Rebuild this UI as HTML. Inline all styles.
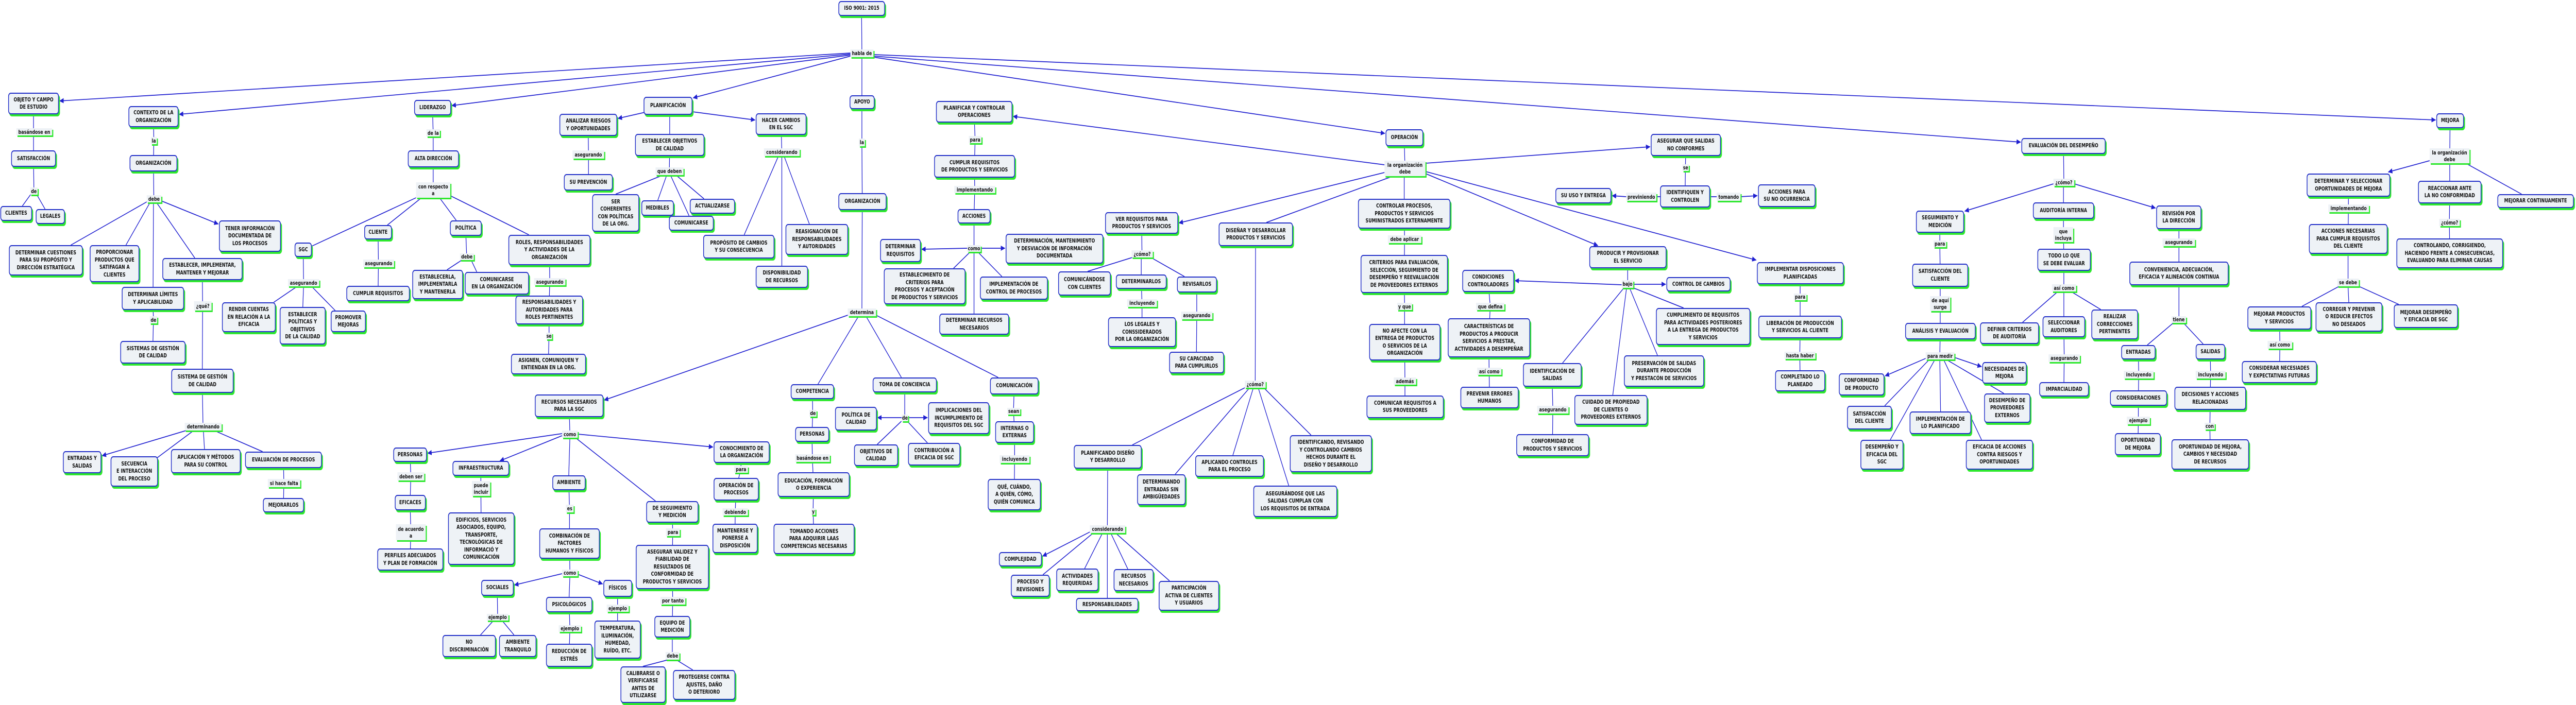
<!DOCTYPE html>
<html><head><meta charset="utf-8"><style>
html,body{margin:0;padding:0;overflow:hidden;background:#fff}
#w{position:absolute;left:0;top:0;width:6916px;height:1369px;transform-origin:0 0;background:#fff}
svg{position:absolute;left:0;top:0}
.n{position:absolute;box-sizing:border-box;border:2px solid #2330c8;border-radius:7px;background:#eef2f6;box-shadow:3px 4px 0 #2ee82e;display:flex;align-items:center;justify-content:center;text-align:center;font:bold 11px/14.5px "DejaVu Sans","Liberation Sans",sans-serif;color:#111;white-space:nowrap}
.l{position:absolute;background:#eef2f6;box-shadow:3px 3px 0 #2ee82e;display:flex;align-items:center;justify-content:center;text-align:center;font:bold 11px/13px "DejaVu Sans","Liberation Sans",sans-serif;color:#111;white-space:nowrap}
</style></head><body>
<div id="w">
<svg width="6916" height="1369" viewBox="0 0 6916 1369">
<defs><marker id="a" markerWidth="12" markerHeight="10" refX="11" refY="5" orient="auto" markerUnits="userSpaceOnUse"><path d="M0,0 L12,5 L0,10 z" fill="#1f1fd0"/></marker></defs>
<g stroke="#1f1fd0" stroke-width="1.7" fill="none">
<path d="M2313,16 L2314,103 M2314,111 L2314,185
M90,201 L90,255 L90,308 L91,370 M83,377 L60,400 M98,377 L121,406
M412,226 L413,273 L412,317 L413,385 M394,392 L190,476 M403,393 L338,476 M412,393 L411,557 M420,393 L523,501
M410,580 L412,620 L410,684 M543,522 L544,594 L543,740 L545,828
M520,836 L420,890 M546,836 L549,872 M575,836 L705,877 M761,893 L762,938 L761,981
M1161,209 L1163,258 L1163,308 L1163,369 M1117,384 L837,478 M1130,385 L1040,437 M1180,384 L1225,428 M1209,380 L1420,456
M814,485 L815,548 M800,555 L735,587 M815,555 L813,596 M835,555 L900,603
M1015,451 L1016,511 L1015,570 M1250,443 L1253,498 M1240,505 L1200,524 M1265,505 L1280,528
M1475,485 L1476,547 L1474,602 L1474,652 L1472,707
M1798,223 L1798,282 L1797,332 M1780,340 L1653,377 M1790,340 L1766,389 M1815,340 L1890,386 M1800,340 L1850,419
M1579,243 L1580,300 L1580,354
M2097,241 L2099,295 M2090,303 L1998,456 M2105,303 L2173,435 M2099,303 L2099,516
M2314,198 L2314,276 L2315,391 L2314,606 M2305,614 L2196,746 M2325,614 L2420,733 M2352,612 L2680,733
M1528,788 L1530,843 M1530,850 L1527,923 M1545,850 L1760,973
M1101,883 L1103,925 L1101,976 L1103,1033 L1101,1086
M1291,910 L1291,948 L1292,1046
M1527,937 L1529,987 L1529,1055 L1530,1112 M1530,1119 L1528,1159
M1335,1141 L1336,1198 M1325,1205 L1290,1233 M1348,1205 L1380,1233
M1528,1174 L1530,1220 L1528,1272 M1658,1142 L1658,1181 L1658,1242
M1805,994 L1806,1033 L1805,1101 L1806,1166 L1805,1217 L1805,1273 M1795,1281 L1726,1294 M1815,1281 L1860,1301
M1991,878 L1989,911 L1976,950 L1974,994 L1973,1045
M2181,760 L2182,802 L2180,843 L2181,889 L2184,941 L2183,993 L2185,1046
M2429,747 L2429,811 M2420,818 L2355,863 M2436,818 L2490,860
M2723,749 L2721,798 L2724,839 L2724,891 L2723,960
M2615,217 L2618,271 L2616,323 L2617,368 L2615,420 L2615,482 M2605,489 L2560,521 M2615,489 L2615,609 M2625,489 L2690,537
M3770,267 L3772,327 M3740,342 L3400,432 M3770,342 L3770,386
M3065,433 L3066,493 M3040,500 L2920,527 M3064,500 L3064,533 M3090,500 L3180,537
M3064,547 L3066,588 L3066,645 M3213,552 L3213,612 L3212,704
M3371,455 L3370,746 M3342,753 L3040,864 M3355,753 L3155,921 M3365,753 L3310,884 M3378,753 L3460,943 M3393,753 L3520,845
M2974,887 L2973,1027 M2935,1035 L2800,1116 M2960,1035 L2912,1104 M2973,1035 L2973,1161 M2982,1035 L3028,1105 M2995,1035 L3140,1128
M3770,415 L3771,464 L3770,532 L3771,595 L3771,664 L3772,740 L3772,790
M4526,281 L4525,325 L4524,381 L4447,382 M4591,382 L4609,382
M4370,500 L4370,551 M4385,559 L4520,598 M4375,559 L4450,690 M4367,559 L4330,767 M4360,559 L4195,705
M3995,545 L4001,595 L3997,656 L3998,721 L3999,772 M4167,728 L4169,795 L4168,864
M4833,530 L4833,576 L4833,635 L4832,690 L4833,740
M5540,283 L5541,354 M5540,361 L5540,393
M5208,430 L5208,473 L5209,534 L5209,589 L5209,643 L5208,691 M5180,698 L5060,788 M5195,698 L5075,854 M5208,698 L5210,799 M5218,698 L5320,854 M5225,698 L5380,764
M5540,409 L5540,455 L5541,504 L5541,559 M5525,566 L5430,626 M5541,566 L5541,614 M5560,566 L5640,601 M5541,634 L5542,695 L5541,756
M5850,422 L5850,470 L5850,531 L5850,620 M5835,627 L5765,670 M5862,627 L5915,668
M5741,684 L5742,727 L5741,773 L5741,816 L5740,862 M5934,683 L5935,727 L5934,773 L5933,827 L5934,882
M6578,234 L6577,302 M6577,317 L6577,351 M6620,317 L6770,377
M6305,359 L6305,404 L6304,464 L6304,548 M6280,556 L6180,595 M6304,556 L6306,587 M6333,556 L6440,591
M6120,617 L6121,669 L6120,722 M6577,373 L6576,432 L6577,492"/>
</g>
<g stroke="#1f1fd0" stroke-width="1.7" fill="none" marker-end="url(#a)">
<line x1="2283" y1="103" x2="160" y2="196"/>
<line x1="2283" y1="105" x2="481" y2="222"/>
<line x1="2283" y1="107" x2="1213" y2="205"/>
<line x1="2283" y1="109" x2="1861" y2="190"/>
<line x1="2345" y1="106" x2="6539" y2="233"/>
<line x1="2345" y1="109" x2="5425" y2="276"/>
<line x1="2345" y1="111" x2="3718" y2="259"/>
<line x1="433" y1="390" x2="586" y2="435"/>
<line x1="500" y1="836" x2="274" y2="885"/>
<line x1="1732" y1="218" x2="1659" y2="230"/>
<line x1="1859" y1="217" x2="2027" y2="233"/>
<line x1="2276" y1="612" x2="1622" y2="777"/>
<line x1="1509" y1="842" x2="1148" y2="880"/>
<line x1="1509" y1="846" x2="1342" y2="895"/>
<line x1="1551" y1="843" x2="1914" y2="868"/>
<line x1="1509" y1="1114" x2="1381" y2="1136"/>
<line x1="1551" y1="1115" x2="1618" y2="1134"/>
<line x1="2421" y1="811" x2="2356" y2="811"/>
<line x1="2438" y1="811" x2="2490" y2="811"/>
<line x1="2597" y1="482" x2="2474" y2="484"/>
<line x1="2633" y1="482" x2="2698" y2="482"/>
<line x1="3717" y1="320" x2="2720" y2="226"/>
<line x1="3717" y1="335" x2="3165" y2="433"/>
<line x1="3827" y1="317" x2="4430" y2="285"/>
<line x1="3827" y1="337" x2="4290" y2="477"/>
<line x1="3827" y1="333" x2="4715" y2="505"/>
<line x1="2926" y1="1033" x2="2799" y2="1080"/>
<line x1="4366" y1="382" x2="4328" y2="380"/>
<line x1="4673" y1="382" x2="4718" y2="380"/>
<line x1="4354" y1="553" x2="4067" y2="545"/>
<line x1="4385" y1="552" x2="4472" y2="552"/>
<line x1="5513" y1="357" x2="5275" y2="410"/>
<line x1="5569" y1="357" x2="5787" y2="404"/>
<line x1="5170" y1="696" x2="5061" y2="730"/>
<line x1="5247" y1="694" x2="5320" y2="712"/>
<line x1="6523" y1="312" x2="6412" y2="334"/>
</g>
</svg>

<div class="n" style="left:2251px;top:2px;width:125px;height:29px">ISO 9001: 2015</div>
<div class="l" style="left:2283px;top:96px;width:62px;height:15px">habla de</div>

<div class="n" style="left:22px;top:180px;width:136px;height:42px">OBJETO Y CAMPO<br>DE ESTUDIO</div>
<div class="l" style="left:44px;top:249px;width:96px;height:14px">basándose en</div>
<div class="n" style="left:30px;top:292px;width:120px;height:32px">SATISFACCIÓN</div>
<div class="l" style="left:81px;top:364px;width:20px;height:14px">de</div>
<div class="n" style="left:1px;top:400px;width:85px;height:29px">CLIENTES</div>
<div class="n" style="left:96px;top:406px;width:78px;height:29px">LEGALES</div>
<div class="n" style="left:345px;top:206px;width:134px;height:41px">CONTEXTO DE LA<br>ORGANIZACIÓN</div>
<div class="l" style="left:405px;top:266px;width:16px;height:14px">la</div>
<div class="n" style="left:348px;top:301px;width:128px;height:32px">ORGANIZACIÓN</div>
<div class="l" style="left:394px;top:379px;width:39px;height:14px">debe</div>
<div class="n" style="left:588px;top:428px;width:166px;height:61px">TENER INFORMACIÓN<br>DOCUMENTADA DE<br>LOS PROCESOS</div>
<div class="n" style="left:24px;top:476px;width:198px;height:59px">DETERMINAR CUESTIONES<br>PARA SU PROPÓSITO Y<br>DIRECCIÓN ESTRATÉGICA</div>
<div class="n" style="left:241px;top:476px;width:133px;height:72px">PROPORCIONAR<br>PRODUCTOS QUE<br>SATIFAGAN A<br>CLIENTES</div>
<div class="n" style="left:436px;top:501px;width:215px;height:43px">ESTABLECER, IMPLEMENTAR,<br>MANTENER Y MEJORAR</div>
<div class="n" style="left:327px;top:557px;width:167px;height:45px">DETERMINAR LÍMITES<br>Y APLICABILIDAD</div>
<div class="l" style="left:402px;top:614px;width:20px;height:14px">de</div>
<div class="n" style="left:323px;top:662px;width:175px;height:44px">SISTEMAS DE GESTIÓN<br>DE CALIDAD</div>
<div class="l" style="left:521px;top:585px;width:47px;height:18px">¿qué?</div>
<div class="n" style="left:460px;top:716px;width:167px;height:47px">SISTEMA DE GESTIÓN<br>DE CALIDAD</div>
<div class="l" style="left:496px;top:821px;width:99px;height:15px">determinando</div>
<div class="n" style="left:169px;top:876px;width:103px;height:43px">ENTRADAS Y<br>SALIDAS</div>
<div class="n" style="left:297px;top:886px;width:127px;height:59px">SECUENCIA<br>E INTERACCIÓN<br>DEL PROCESO</div>
<div class="n" style="left:459px;top:872px;width:187px;height:47px">APLICACIÓN Y MÉTODOS<br>PARA SU CONTROL</div>
<div class="n" style="left:658px;top:877px;width:206px;height:32px">EVALUACIÓN DE PROCESOS</div>
<div class="l" style="left:719px;top:930px;width:87px;height:16px">si hace falta</div>
<div class="n" style="left:706px;top:967px;width:110px;height:28px">MEJORARLOS</div>

<div class="n" style="left:1112px;top:194px;width:99px;height:30px">LIDERAZGO</div>
<div class="l" style="left:1145px;top:251px;width:36px;height:14px">de la</div>
<div class="n" style="left:1095px;top:292px;width:137px;height:33px">ALTA DIRECCIÓN</div>
<div class="l" style="left:1117px;top:354px;width:92px;height:30px">con respecto<br>a</div>
<div class="n" style="left:791px;top:471px;width:46px;height:28px">SGC</div>
<div class="l" style="left:773px;top:542px;width:84px;height:14px">asegurando</div>
<div class="n" style="left:596px;top:587px;width:144px;height:58px">RENDIR CUENTAS<br>EN RELACIÓN A LA<br>EFICACIA</div>
<div class="n" style="left:751px;top:596px;width:123px;height:73px">ESTABLECER<br>POLÍTICAS Y<br>OBJETIVOS<br>DE LA CALIDAD</div>
<div class="n" style="left:888px;top:603px;width:94px;height:42px">PROMOVER<br>MEJORAS</div>
<div class="n" style="left:978px;top:437px;width:74px;height:28px">CLIENTE</div>
<div class="l" style="left:975px;top:504px;width:83px;height:15px">asegurando</div>
<div class="n" style="left:930px;top:555px;width:170px;height:30px">CUMPLIR REQUISITOS</div>
<div class="n" style="left:1208px;top:428px;width:85px;height:30px">POLÍTICA</div>
<div class="l" style="left:1235px;top:492px;width:37px;height:13px">debe</div>
<div class="n" style="left:1107px;top:524px;width:136px;height:57px">ESTABLECERLA,<br>IMPLEMENTARLA<br>Y MANTENERLA</div>
<div class="n" style="left:1248px;top:528px;width:172px;height:44px">COMUNICARSE<br>EN LA ORGANIZACIÓN</div>
<div class="n" style="left:1365px;top:456px;width:220px;height:59px">ROLES, RESPONSABILIDADES<br>Y ACTIVIDADES DE LA<br>ORGANIZACIÓN</div>
<div class="l" style="left:1434px;top:540px;width:84px;height:14px">asegurando</div>
<div class="n" style="left:1384px;top:574px;width:181px;height:56px">RESPONSABILIDADES Y<br>AUTORIDADES PARA<br>ROLES PERTINENTES</div>
<div class="l" style="left:1466px;top:646px;width:16px;height:13px">se</div>
<div class="n" style="left:1372px;top:687px;width:201px;height:40px">ASIGNEN, COMUNIQUEN Y<br>ENTIENDAN EN LA ORG.</div>

<div class="n" style="left:1728px;top:188px;width:131px;height:35px">PLANIFICACIÓN</div>
<div class="n" style="left:1502px;top:221px;width:155px;height:43px">ANALIZAR RIESGOS<br>Y OPORTUNIDADES</div>
<div class="l" style="left:1537px;top:292px;width:85px;height:16px">asegurando</div>
<div class="n" style="left:1514px;top:338px;width:131px;height:32px">SU PREVENCIÓN</div>
<div class="n" style="left:1705px;top:260px;width:186px;height:43px">ESTABLECER OBJETIVOS<br>DE CALIDAD</div>
<div class="l" style="left:1760px;top:325px;width:75px;height:15px">que deben</div>
<div class="n" style="left:1590px;top:377px;width:126px;height:73px">SER<br>COHERENTES<br>CON POLÍTICAS<br>DE LA ORG.</div>
<div class="n" style="left:1722px;top:389px;width:87px;height:30px">MEDIBLES</div>
<div class="n" style="left:1852px;top:386px;width:121px;height:29px">ACTUALIZARSE</div>
<div class="n" style="left:1796px;top:419px;width:120px;height:29px">COMUNICARSE</div>
<div class="n" style="left:2029px;top:220px;width:136px;height:42px">HACER CAMBIOS<br>EN EL SGC</div>
<div class="l" style="left:2051px;top:288px;width:96px;height:15px">considerando</div>
<div class="n" style="left:1888px;top:456px;width:191px;height:46px">PROPÓSITO DE CAMBIOS<br>Y SU CONSECUENCIA</div>
<div class="n" style="left:2109px;top:435px;width:168px;height:60px">REASIGNACIÓN DE<br>RESPONSABILIDADES<br>Y AUTORIDADES</div>
<div class="n" style="left:2029px;top:516px;width:140px;height:43px">DISPONIBILIDAD<br>DE RECURSOS</div>

<div class="n" style="left:2281px;top:185px;width:67px;height:27px">APOYO</div>
<div class="l" style="left:2306px;top:269px;width:16px;height:15px">la</div>
<div class="n" style="left:2251px;top:375px;width:129px;height:33px">ORGANIZACIÓN</div>
<div class="l" style="left:2276px;top:599px;width:76px;height:15px">determina</div>
<div class="n" style="left:1436px;top:766px;width:184px;height:44px">RECURSOS NECESARIOS<br>PARA LA SGC</div>
<div class="l" style="left:1509px;top:836px;width:42px;height:14px">como</div>
<div class="n" style="left:1056px;top:869px;width:90px;height:28px">PERSONAS</div>
<div class="l" style="left:1067px;top:917px;width:72px;height:16px">deben ser</div>
<div class="n" style="left:1060px;top:961px;width:83px;height:30px">EFICACES</div>
<div class="l" style="left:1063px;top:1018px;width:80px;height:31px">de acuerdo<br>a</div>
<div class="n" style="left:1013px;top:1065px;width:177px;height:43px">PERFILES ADECUADOS<br>Y PLAN DE FORMACIÓN</div>
<div class="n" style="left:1215px;top:895px;width:152px;height:29px">INFRAESTRUCTURA</div>
<div class="l" style="left:1267px;top:934px;width:49px;height:29px">puede<br>incluir</div>
<div class="n" style="left:1203px;top:995px;width:178px;height:102px">EDIFICIOS, SERVICIOS<br>ASOCIADOS, EQUIPO,<br>TRANSPORTE,<br>TECNOLÓGICAS DE<br>INFORMACIÓ Y<br>COMUNICACIÓN</div>
<div class="n" style="left:1483px;top:923px;width:89px;height:29px">AMBIENTE</div>
<div class="l" style="left:1519px;top:980px;width:21px;height:15px">es</div>
<div class="n" style="left:1448px;top:1026px;width:162px;height:59px">COMBINACIÓN DE<br>FACTORES<br>HUMANOS Y FÍSICOS</div>
<div class="l" style="left:1509px;top:1106px;width:42px;height:13px">como</div>
<div class="n" style="left:1292px;top:1126px;width:87px;height:31px">SOCIALES</div>
<div class="l" style="left:1307px;top:1192px;width:58px;height:13px">ejemplo</div>
<div class="n" style="left:1188px;top:1233px;width:143px;height:43px">NO<br>DISCRIMINACIÓN</div>
<div class="n" style="left:1340px;top:1233px;width:100px;height:43px">AMBIENTE<br>TRANQUILO</div>
<div class="n" style="left:1466px;top:1159px;width:124px;height:30px">PSICOLÓGICOS</div>
<div class="l" style="left:1500px;top:1214px;width:60px;height:13px">ejemplo</div>
<div class="n" style="left:1466px;top:1250px;width:124px;height:45px">REDUCCIÓN DE<br>ESTRÉS</div>
<div class="n" style="left:1620px;top:1126px;width:77px;height:33px">FÍSICOS</div>
<div class="l" style="left:1629px;top:1174px;width:59px;height:14px">ejemplo</div>
<div class="n" style="left:1596px;top:1205px;width:124px;height:74px">TEMPERATURA,<br>ILUMINACIÓN,<br>HUMEDAD,<br>RUÍDO, ETC.</div>
<div class="n" style="left:1735px;top:973px;width:140px;height:42px">DE SEGUIMIENTO<br>Y MEDICIÓN</div>
<div class="l" style="left:1788px;top:1026px;width:37px;height:15px">para</div>
<div class="n" style="left:1707px;top:1058px;width:196px;height:86px">ASEGURAR VALIDEZ Y<br>FIABILIDAD DE<br>RESULTADOS DE<br>CONFORMIDAD DE<br>PRODUCTOS Y SERVICIOS</div>
<div class="l" style="left:1773px;top:1159px;width:67px;height:15px">por tanto</div>
<div class="n" style="left:1757px;top:1196px;width:96px;height:42px">EQUIPO DE<br>MEDICIÓN</div>
<div class="l" style="left:1787px;top:1266px;width:37px;height:15px">debe</div>
<div class="n" style="left:1666px;top:1294px;width:121px;height:71px">CALIBRARSE O<br>VERIFICARSE<br>ANTES DE<br>UTILIZARSE</div>
<div class="n" style="left:1807px;top:1301px;width:167px;height:58px">PROTEGERSE CONTRA<br>AJUSTES, DAÑO<br>O DETERIORO</div>
<div class="n" style="left:1916px;top:857px;width:150px;height:42px">CONOCIMIENTO DE<br>LA ORGANIZACIÓN</div>
<div class="l" style="left:1971px;top:905px;width:37px;height:13px">para</div>
<div class="n" style="left:1916px;top:928px;width:121px;height:44px">OPERACIÓN DE<br>PROCESOS</div>
<div class="l" style="left:1940px;top:987px;width:68px;height:14px">debiendo</div>
<div class="n" style="left:1913px;top:1017px;width:121px;height:57px">MANTENERSE Y<br>PONERSE A<br>DISPOSICIÓN</div>
<div class="n" style="left:2123px;top:746px;width:116px;height:29px">COMPETENCIA</div>
<div class="l" style="left:2173px;top:796px;width:19px;height:13px">de</div>
<div class="n" style="left:2135px;top:829px;width:91px;height:29px">PERSONAS</div>
<div class="l" style="left:2135px;top:882px;width:93px;height:15px">basándose en</div>
<div class="n" style="left:2088px;top:917px;width:193px;height:48px">EDUCACIÓN, FORMACIÓN<br>O EXPERIENCIA</div>
<div class="l" style="left:2178px;top:987px;width:11px;height:13px">y</div>
<div class="n" style="left:2077px;top:1017px;width:217px;height:59px">TOMANDO ACCIONES<br>PARA ADQUIRIR LAAS<br>COMPETENCIAS NECESARIAS</div>
<div class="n" style="left:2343px;top:733px;width:172px;height:29px">TOMA DE CONCIENCIA</div>
<div class="l" style="left:2421px;top:805px;width:17px;height:13px">de</div>
<div class="n" style="left:2242px;top:790px;width:112px;height:46px">POLÍTICA DE<br>CALIDAD</div>
<div class="n" style="left:2293px;top:863px;width:118px;height:42px">OBJETIVOS DE<br>CALIDAD</div>
<div class="n" style="left:2438px;top:860px;width:140px;height:44px">CONTRIBUCIÓN A<br>EFICACIA DE SGC</div>
<div class="n" style="left:2492px;top:781px;width:164px;height:62px">IMPLICACIONES DEL<br>INCUMPLIMIENTO DE<br>REQUISITOS DEL SGC</div>
<div class="n" style="left:2658px;top:733px;width:130px;height:33px">COMUNICACIÓN</div>
<div class="l" style="left:2704px;top:792px;width:35px;height:13px">sean</div>
<div class="n" style="left:2672px;top:818px;width:104px;height:42px">INTERNAS O<br>EXTERNAS</div>
<div class="l" style="left:2684px;top:884px;width:80px;height:15px">incluyendo</div>
<div class="n" style="left:2652px;top:930px;width:142px;height:61px">QUÉ, CUÁNDO,<br>A QUIÉN, CÓMO,<br>QUIÉN COMUNICA</div>

<div class="n" style="left:2513px;top:196px;width:205px;height:42px">PLANIFICAR Y CONTROLAR<br>OPERACIONES</div>
<div class="l" style="left:2601px;top:264px;width:34px;height:14px">para</div>
<div class="n" style="left:2508px;top:301px;width:217px;height:44px">CUMPLIR REQUISITOS<br>DE PRODUCTOS Y SERVICIOS</div>
<div class="l" style="left:2562px;top:361px;width:110px;height:14px">implementando</div>
<div class="n" style="left:2571px;top:406px;width:88px;height:28px">ACCIONES</div>
<div class="l" style="left:2597px;top:476px;width:36px;height:13px">como</div>
<div class="n" style="left:2363px;top:464px;width:109px;height:45px">DETERMINAR<br>REQUISITOS</div>
<div class="n" style="left:2373px;top:521px;width:219px;height:70px">ESTABLECIMIENTO DE<br>CRITERIOS PARA<br>PROCESOS Y ACEPTACIÓN<br>DE PRODUCTOS Y SERVICIOS</div>
<div class="n" style="left:2522px;top:609px;width:187px;height:41px">DETERMINAR RECURSOS<br>NECESARIOS</div>
<div class="n" style="left:2631px;top:537px;width:182px;height:45px">IMPLEMENTACIÓN DE<br>CONTROL DE PROCESOS</div>
<div class="n" style="left:2700px;top:454px;width:262px;height:58px">DETERMINACIÓN, MANTENIMIENTO<br>Y DESVIACIÓN DE INFORMACIÓN<br>DOCUMENTADA</div>

<div class="n" style="left:3720px;top:251px;width:101px;height:33px">OPERACIÓN</div>
<div class="l" style="left:3717px;top:312px;width:110px;height:30px">la organización<br>debe</div>
<div class="n" style="left:2967px;top:412px;width:196px;height:42px">VER REQUISITOS PARA<br>PRODUCTOS Y SERVICIOS</div>
<div class="l" style="left:3038px;top:486px;width:57px;height:14px">¿cómo?</div>
<div class="n" style="left:2841px;top:527px;width:141px;height:47px">COMUNICÁNDOSE<br>CON CLIENTES</div>
<div class="n" style="left:2996px;top:533px;width:136px;height:28px">DETERMINARLOS</div>
<div class="l" style="left:3026px;top:581px;width:80px;height:15px">incluyendo</div>
<div class="n" style="left:2975px;top:616px;width:182px;height:58px">LOS LEGALES Y<br>CONSSIDERADOS<br>POR LA ORGANIZACIÓN</div>
<div class="n" style="left:3160px;top:537px;width:107px;height:31px">REVISARLOS</div>
<div class="l" style="left:3171px;top:605px;width:84px;height:15px">asegurando</div>
<div class="n" style="left:3139px;top:683px;width:147px;height:42px">SU CAPACIDAD<br>PARA CUMPLIRLOS</div>
<div class="n" style="left:3272px;top:432px;width:199px;height:46px">DISEÑAR Y DESARROLLAR<br>PRODUCTOS Y SERVICIOS</div>
<div class="l" style="left:3342px;top:739px;width:56px;height:14px">¿cómo?</div>
<div class="n" style="left:2883px;top:864px;width:182px;height:46px">PLANIFICANDO DISEÑO<br>Y DESARROLLO</div>
<div class="n" style="left:3053px;top:921px;width:130px;height:60px">DETERMINANDO<br>ENTRADAS SIN<br>AMBIGÜEDADES</div>
<div class="n" style="left:3209px;top:884px;width:184px;height:42px">APLICANDO CONTROLES<br>PARA EL PROCESO</div>
<div class="n" style="left:3365px;top:943px;width:225px;height:61px">ASEGURÁNDOSE QUE LAS<br>SALIDAS CUMPLAN CON<br>LOS REQUISITOS DE ENTRADA</div>
<div class="n" style="left:3463px;top:845px;width:220px;height:72px">IDENTIFICANDO, REVISANDO<br>Y CONTROLANDO CAMBIOS<br>HECHOS DURANTE EL<br>DISEÑO Y DESARROLLO</div>
<div class="l" style="left:2926px;top:1020px;width:95px;height:15px">considerando</div>
<div class="n" style="left:2682px;top:1072px;width:115px;height:28px">COMPLEJIDAD</div>
<div class="n" style="left:2714px;top:1116px;width:104px;height:43px">PROCESO Y<br>REVISIONES</div>
<div class="n" style="left:2836px;top:1104px;width:113px;height:44px">ACTIVIDADES<br>REQUERIDAS</div>
<div class="n" style="left:2889px;top:1161px;width:167px;height:26px">RESPONSABILIDADES</div>
<div class="n" style="left:2990px;top:1105px;width:107px;height:43px">RECURSOS<br>NECESARIOS</div>
<div class="n" style="left:3111px;top:1128px;width:162px;height:58px">PARTICIPACIÓN<br>ACTIVA DE CLIENTES<br>Y USUARIOS</div>
<div class="n" style="left:3646px;top:386px;width:248px;height:58px">CONTROLAR PROCESOS,<br>PRODUCTOS Y SERVICIOS<br>SUMINISTRADOS EXTERNAMENTE</div>
<div class="l" style="left:3726px;top:457px;width:90px;height:15px">debe aplicar</div>
<div class="n" style="left:3653px;top:495px;width:234px;height:74px">CRITERIOS PARA EVALUACIÓN,<br>SELECCIÓN, SEGUIMIENTO DE<br>DESEMPEÑO Y REEVALUACIÓN<br>DE PROVEEDORES EXTERNOS</div>
<div class="l" style="left:3751px;top:588px;width:40px;height:14px">y que</div>
<div class="n" style="left:3676px;top:629px;width:191px;height:71px">NO AFECTE CON LA<br>ENTREGA DE PRODUCTOS<br>O SERVICIOS DE LA<br>ORGANIZACIÓN</div>
<div class="l" style="left:3742px;top:733px;width:60px;height:14px">además</div>
<div class="n" style="left:3669px;top:768px;width:207px;height:44px">COMUNICAR REQUISITOS A<br>SUS PROVEEDORES</div>
<div class="n" style="left:4432px;top:260px;width:188px;height:43px">ASEGURAR QUE SALIDAS<br>NO CONFORMES</div>
<div class="l" style="left:4517px;top:319px;width:17px;height:13px">se</div>
<div class="n" style="left:4457px;top:360px;width:134px;height:43px">IDENTIFIQUEN Y<br>CONTROLEN</div>
<div class="l" style="left:4366px;top:374px;width:81px;height:16px">previniendo</div>
<div class="n" style="left:4176px;top:365px;width:150px;height:30px">SU USO Y ENTREGA</div>
<div class="l" style="left:4609px;top:374px;width:64px;height:16px">tomando</div>
<div class="n" style="left:4720px;top:358px;width:154px;height:44px">ACCIONES PARA<br>SU NO OCURRENCIA</div>
<div class="n" style="left:4267px;top:478px;width:207px;height:43px">PRODUCIR Y PROVISIONAR<br>EL SERVICIO</div>
<div class="l" style="left:4354px;top:544px;width:31px;height:15px">bajo</div>
<div class="n" style="left:3926px;top:524px;width:139px;height:43px">CONDICIONES<br>CONTROLADORES</div>
<div class="l" style="left:3963px;top:588px;width:76px;height:14px">que defina</div>
<div class="n" style="left:3887px;top:618px;width:221px;height:76px">CARACTERÍSTICAS DE<br>PRODUCTOS A PRODUCIR<br>SERVICIOS A PRESTAR,<br>ACTIVIDADES A DESEMPEÑAR</div>
<div class="l" style="left:3966px;top:714px;width:65px;height:14px">así como</div>
<div class="n" style="left:3921px;top:751px;width:156px;height:42px">PREVENIR ERRORES<br>HUMANOS</div>
<div class="n" style="left:4474px;top:538px;width:172px;height:28px">CONTROL DE CAMBIOS</div>
<div class="n" style="left:4446px;top:598px;width:253px;height:72px">CUMPLIMIENTO DE REQUISITOS<br>PARA ACTIVIDADES POSTERIORES<br>A LA ENTREGA DE PRODUCTOS<br>Y SERVICIOS</div>
<div class="n" style="left:4089px;top:705px;width:157px;height:46px">IDENTIFICACIÓN DE<br>SALIDAS</div>
<div class="l" style="left:4127px;top:788px;width:84px;height:15px">asegurando</div>
<div class="n" style="left:4071px;top:843px;width:195px;height:43px">CONFORMIDAD DE<br>PRODUCTOS Y SERVICIOS</div>
<div class="n" style="left:4227px;top:767px;width:196px;height:58px">CUIDADO DE PROPIEDAD<br>DE CLIENTES O<br>PROVEEDORES EXTERNOS</div>
<div class="n" style="left:4360px;top:690px;width:215px;height:61px">PRESERVACIÓN DE SALIDAS<br>DURANTE PRODUCCIÓN<br>Y PRESTACÓN DE SERVICIOS</div>
<div class="n" style="left:4717px;top:509px;width:233px;height:43px">IMPLEMENTAR DISPOSICIONES<br>PLANIFICADAS</div>
<div class="l" style="left:4816px;top:570px;width:34px;height:13px">para</div>
<div class="n" style="left:4721px;top:613px;width:224px;height:44px">LIBERACIÓN DE PRODUCCIÓN<br>Y SERVICIOS AL CLIENTE</div>
<div class="l" style="left:4791px;top:683px;width:83px;height:14px">hasta haber</div>
<div class="n" style="left:4766px;top:719px;width:134px;height:41px">COMPLETADO LO<br>PLANEADO</div>

<div class="n" style="left:5427px;top:268px;width:226px;height:31px">EVALUACIÓN DEL DESEMPEÑO</div>
<div class="l" style="left:5513px;top:347px;width:56px;height:14px">¿cómo?</div>
<div class="n" style="left:5144px;top:409px;width:129px;height:43px">SEGUIMIENTO Y<br>MEDICIÓN</div>
<div class="l" style="left:5191px;top:467px;width:34px;height:13px">para</div>
<div class="n" style="left:5134px;top:512px;width:150px;height:45px">SATISFACCIÓN DEL<br>CLIENTE</div>
<div class="l" style="left:5182px;top:575px;width:54px;height:29px">de aquí<br>surge</div>
<div class="n" style="left:5115px;top:627px;width:189px;height:32px">ANÁLISIS Y EVALUACIÓN</div>
<div class="l" style="left:5170px;top:684px;width:77px;height:14px">para medir</div>
<div class="n" style="left:4937px;top:725px;width:122px;height:43px">CONFORMIDAD<br>DE PRODUCTO</div>
<div class="n" style="left:4959px;top:788px;width:120px;height:46px">SATISFACCIÓN<br>DEL CLIENTE</div>
<div class="n" style="left:4995px;top:854px;width:115px;height:58px">DESEMPEÑO Y<br>EFICACIA DEL<br>SGC</div>
<div class="n" style="left:5127px;top:799px;width:165px;height:44px">IMPLEMENTACIÓN DE<br>LO PLANIFICADO</div>
<div class="n" style="left:5278px;top:854px;width:180px;height:58px">EFICACIA DE ACCIONES<br>CONTRA RIESGOS Y<br>OPORTUNIDADES</div>
<div class="n" style="left:5327px;top:764px;width:124px;height:57px">DESEMPEÑO DE<br>PROVEEDORES<br>EXTERNOS</div>
<div class="n" style="left:5322px;top:703px;width:119px;height:42px">NECESIDADES DE<br>MEJORA</div>
<div class="n" style="left:5458px;top:393px;width:164px;height:32px">AUDITORÍA INTERNA</div>
<div class="l" style="left:5513px;top:441px;width:53px;height:29px">que<br>incluya</div>
<div class="n" style="left:5470px;top:483px;width:143px;height:43px">TODO LO QUE<br>SE DEBE EVALUAR</div>
<div class="l" style="left:5509px;top:552px;width:65px;height:14px">así como</div>
<div class="n" style="left:5316px;top:626px;width:158px;height:42px">DEFINIR CRITERIOS<br>DE AUDITORÍA</div>
<div class="n" style="left:5484px;top:614px;width:114px;height:41px">SELECCIONAR<br>AUDITORES</div>
<div class="l" style="left:5500px;top:688px;width:84px;height:15px">asegurando</div>
<div class="n" style="left:5475px;top:742px;width:133px;height:28px">IMPARCIALIDAD</div>
<div class="n" style="left:5615px;top:601px;width:125px;height:58px">REALIZAR<br>CORRECCIONES<br>PERTINENTES</div>
<div class="n" style="left:5789px;top:399px;width:121px;height:46px">REVISIÓN POR<br>LA DIRECCIÓN</div>
<div class="l" style="left:5806px;top:463px;width:87px;height:15px">asegurando</div>
<div class="n" style="left:5717px;top:508px;width:266px;height:46px">CONVENIENCIA, ADECUACIÓN,<br>EFICACIA Y ALINEACIÓN CONTINUA</div>
<div class="l" style="left:5830px;top:614px;width:39px;height:13px">tiene</div>
<div class="n" style="left:5695px;top:670px;width:92px;height:28px">ENTRADAS</div>
<div class="l" style="left:5702px;top:720px;width:80px;height:15px">incluyendo</div>
<div class="n" style="left:5665px;top:758px;width:153px;height:30px">CONSIDERACIONES</div>
<div class="l" style="left:5710px;top:809px;width:62px;height:15px">ejemplo</div>
<div class="n" style="left:5678px;top:841px;width:123px;height:43px">OPORTUNIDAD<br>DE MEJORA</div>
<div class="n" style="left:5895px;top:668px;width:79px;height:30px">SALIDAS</div>
<div class="l" style="left:5895px;top:720px;width:80px;height:15px">incluyendo</div>
<div class="n" style="left:5838px;top:751px;width:192px;height:45px">DECISIONES Y ACCIONES<br>RELACIONADAS</div>
<div class="l" style="left:5919px;top:821px;width:27px;height:13px">con</div>
<div class="n" style="left:5830px;top:853px;width:208px;height:59px">OPORTUNIDAD DE MEJORA,<br>CAMBIOS Y NECESIDAD<br>DE RECURSOS</div>

<div class="n" style="left:6541px;top:220px;width:74px;height:29px">MEJORA</div>
<div class="l" style="left:6523px;top:288px;width:107px;height:29px">la organización<br>debe</div>
<div class="n" style="left:6193px;top:337px;width:224px;height:45px">DETERMINAR Y SELECCIONAR<br>OPORTUNIDADES DE MEJORA</div>
<div class="l" style="left:6251px;top:397px;width:109px;height:15px">implementando</div>
<div class="n" style="left:6199px;top:435px;width:211px;height:58px">ACCIONES NECESARIAS<br>PARA CUMPLIR REQUISITOS<br>DEL CLIENTE</div>
<div class="l" style="left:6275px;top:541px;width:58px;height:15px">se debe</div>
<div class="n" style="left:6034px;top:595px;width:171px;height:45px">MEJORAR PRODUCTOS<br>Y SERVICIOS</div>
<div class="l" style="left:6088px;top:662px;width:66px;height:15px">así como</div>
<div class="n" style="left:6019px;top:701px;width:201px;height:43px">CONSIDERAR NECESIADES<br>Y EXPECTATIVAS FUTURAS</div>
<div class="n" style="left:6217px;top:587px;width:179px;height:57px">CORREGIR Y PREVENIR<br>O REDUCIR EFECTOS<br>NO DESEADOS</div>
<div class="n" style="left:6427px;top:591px;width:172px;height:46px">MEJORAR DESEMPEÑO<br>Y EFICACIA DE SGC</div>
<div class="n" style="left:6492px;top:351px;width:170px;height:44px">REACCIONAR ANTE<br>LA NO CONFORMIDAD</div>
<div class="l" style="left:6549px;top:425px;width:55px;height:14px">¿cómo?</div>
<div class="n" style="left:6434px;top:463px;width:286px;height:58px">CONTROLANDO, CORRIGIENDO,<br>HACIENDO FRENTE A CONSECUENCIAS,<br>EVALUANDO PARA ELIMINAR CAUSAS</div>
<div class="n" style="left:6705px;top:377px;width:205px;height:27px">MEJORAR CONTINUAMENTE</div>
</div>
<script>
(function(){
var w=document.getElementById('w');
function fit(){
var vw=window.innerWidth||6916, vh=window.innerHeight||1369;
var sx=vw/6916, sy=vh/1369;
if(Math.abs(sx-1)>0.005||Math.abs(sy-1)>0.005){w.style.transform='scale('+sx+','+sy+')';}else{w.style.transform='none';}
}
fit();window.addEventListener('resize',fit);
})();
</script>
</body></html>
